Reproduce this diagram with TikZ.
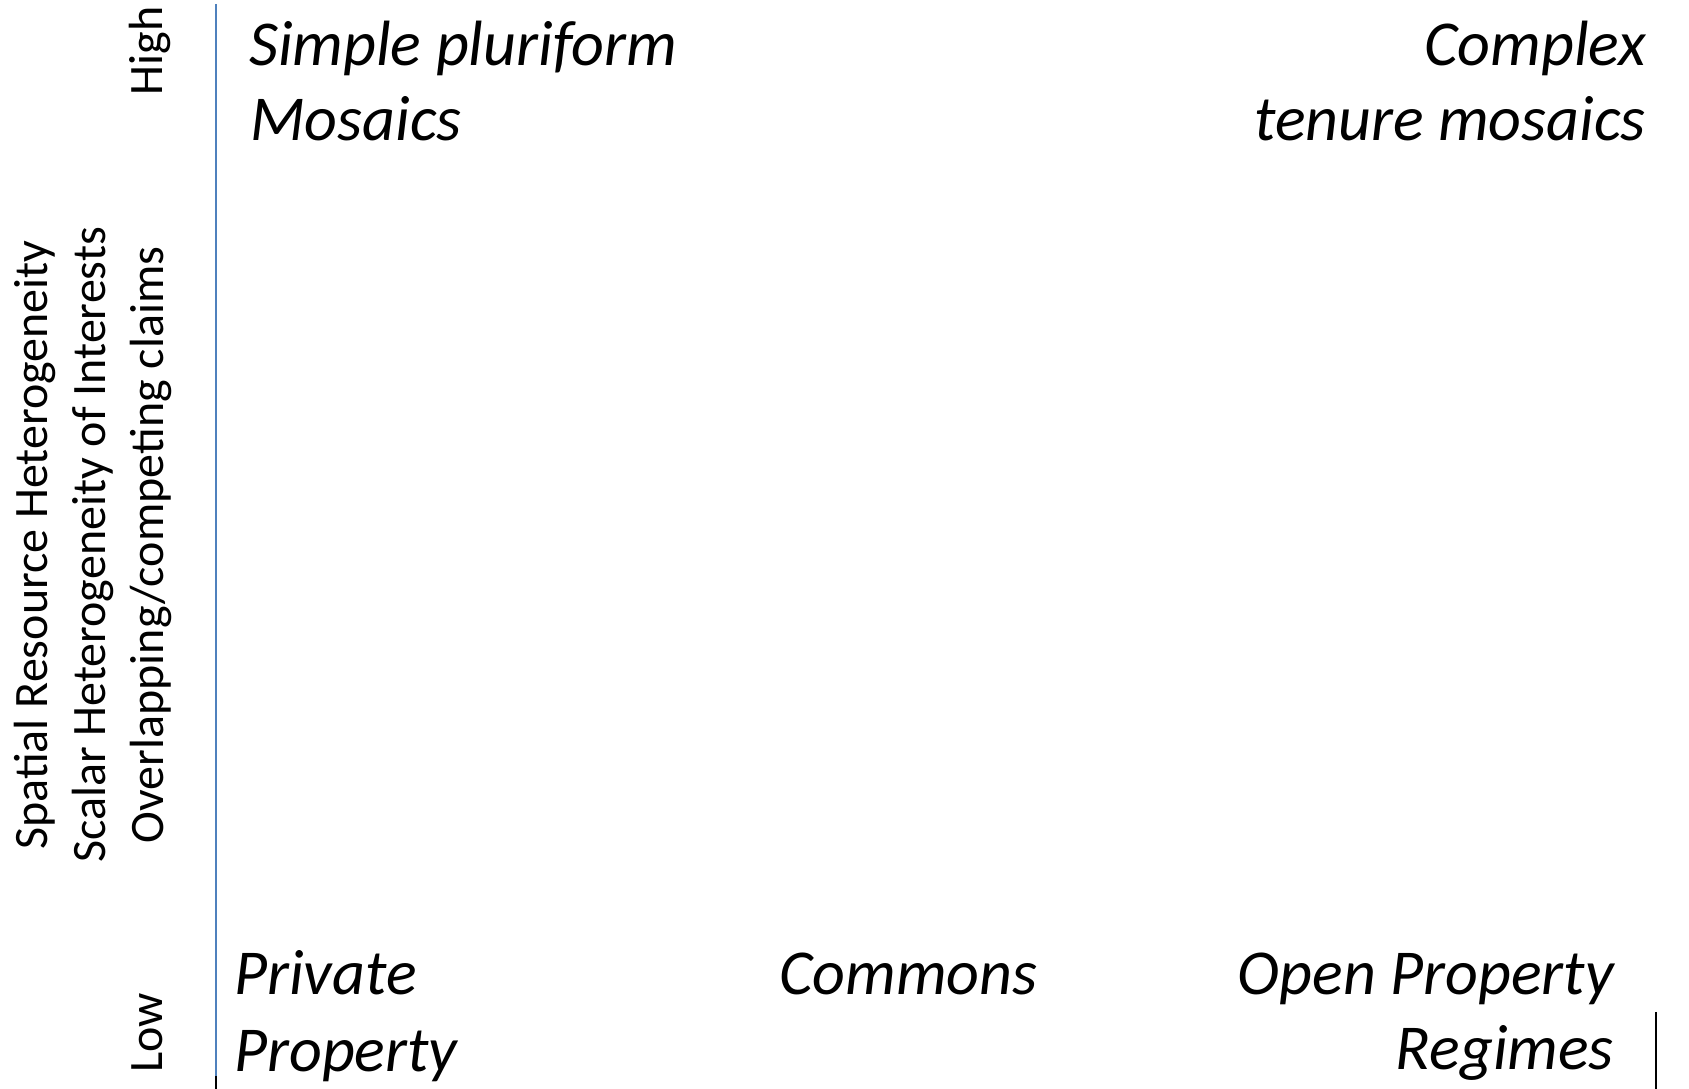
\documentclass[tikz,border=0pt]{standalone}
\usepackage{fontspec}
\setmainfont{Carlito}
\usepackage{tikz}
\definecolor{axisblue}{RGB}{79,129,189}

\begin{document}
\begin{tikzpicture}[x=1pt,y=1pt,
    regime/.style={inner sep=0pt, font=\fontsize{64}{76}\selectfont\itshape},
    sidelabel/.style={inner sep=0pt, rotate=90, anchor=base, font=\fontsize{48}{58}\selectfont}]
        \useasboundingbox (0,0) rectangle (1689,1089);
        \coordinate (axtop) at (216,1085);
        \coordinate (axmid) at (216,13);
        \coordinate (axbot) at (216,0);
        \coordinate (edgetop) at (1656,77);
        \coordinate (edgebot) at (1656,0);
        \draw[axisblue, line width=2pt] (axtop)--(axmid);
        \draw[black, line width=2pt] (axmid)--(axbot);
        \draw[black, line width=1.5pt] (edgetop)--(edgebot);

        \node[sidelabel] (high) at (162,1038) {High};
        \node[sidelabel] (low) at (162,56) {Low};
        \foreach \name/\xpos/\txt in {spatial/47/{Spatial Resource Heterogeneity},
                                      scalar/105/{Scalar Heterogeneity of Interests},
                                      claims/163/{Overlapping/competing claims}}
            \node[sidelabel] (\name) at (\xpos,544) {\txt};

        \node[regime, anchor=base west] (simple) at (249,1023) {Simple pluriform};
        \node[regime, anchor=base west] (mosaics) at (250,948) {Mosaics};
        \node[regime, anchor=base east] (complex) at (1646,1023) {Complex};
        \node[regime, anchor=base east] (tenure) at (1646,948) {tenure mosaics};
        \node[regime, anchor=base west] (private) at (234,94) {Private};
        \node[regime, anchor=base west] (property) at (234,17) {Property};
        \node[regime, anchor=base west] (commons) at (779,94) {Commons};
        \node[regime, anchor=base east] (open) at (1614,94) {Open Property};
        \node[regime, anchor=base east] (regimes) at (1614,19) {Regimes};
\end{tikzpicture}
\end{document}
